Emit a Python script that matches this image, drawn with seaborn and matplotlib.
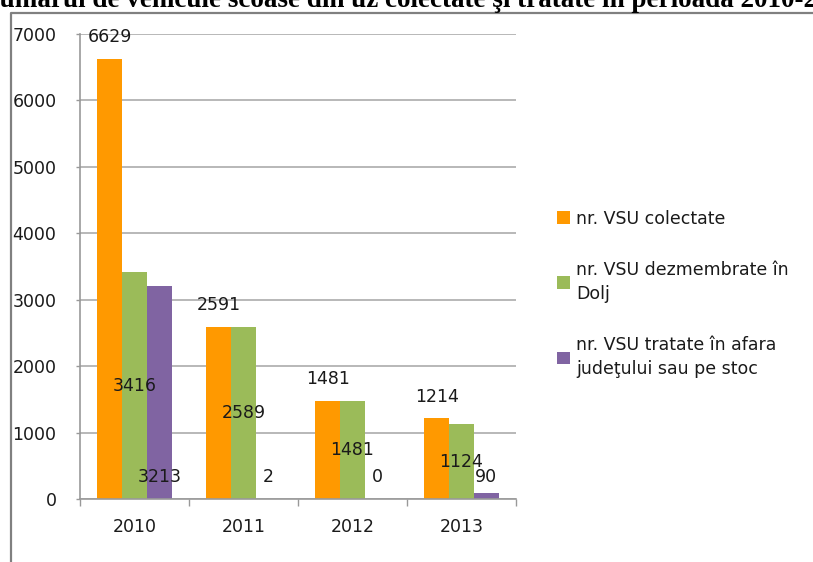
import matplotlib
matplotlib.use("Agg")
import pandas as pd
import seaborn as sns
from matplotlib import pyplot as plt
from matplotlib.lines import Line2D
from matplotlib.ticker import MultipleLocator, FixedLocator

years = ["2010", "2011", "2012", "2013"]
colectate = [6629, 2591, 1481, 1214]
dezmembrate = [3416, 2589, 1481, 1124]
tratate_afara = [3213, 2, 0, 90]
series = ["nr. VSU colectate",
          "nr. VSU dezmembrate în\nDolj",
          "nr. VSU tratate în afara\njudeţului sau pe stoc"]
colors = ["#FF9900", "#9BBB59", "#8064A2"]
title = "Numărul de vehicule scoase din uz colectate şi tratate în perioada 2010-2013"

W, H = 813, 562
GRAY = "#999999"
TXT = "#1A1A1A"
FS = 12.5

df = pd.DataFrame({
    "an": years * 3,
    "val": colectate + dezmembrate + tratate_afara,
    "serie": [s for s in series for _ in years],
})

sns.set_style("white")
plt.rcParams["font.family"] = ["DejaVu Sans"]

fig = plt.figure(figsize=(W / 100, H / 100), dpi=100)
ax = fig.add_axes([80 / W, 63 / H, 436 / W, 465 / H])
sns.barplot(data=df, x="an", y="val", hue="serie", hue_order=series,
            palette=colors, saturation=1, width=0.68, errorbar=None,
            linewidth=0, ax=ax)

# data labels: outside end / center / inside base
ax.bar_label(ax.containers[0], padding=9, fontsize=FS, color=TXT)
ax.bar_label(ax.containers[1], label_type="center", fontsize=FS, color=TXT)
for bar, v in zip(ax.containers[2], tratate_afara):
    ax.annotate(str(v), (bar.get_x() + bar.get_width() / 2, 0),
                xytext=(0, 16), textcoords="offset points",
                ha="center", va="center", fontsize=FS, color=TXT)

ax.set_ylim(0, 7000)
ax.set_xlim(-0.5, 3.5)
ax.yaxis.set_major_locator(MultipleLocator(1000))
ax.grid(axis="y", color="#ABABAB", lw=1.2)
ax.set_axisbelow(True)
ax.xaxis.set_minor_locator(FixedLocator([-0.5, 0.5, 1.5, 2.5, 3.5]))
ax.tick_params(axis="y", left=True, length=3, width=1, color=GRAY, pad=14,
               labelsize=FS, labelcolor=TXT)
ax.tick_params(axis="x", which="major", length=0, pad=14, labelsize=FS,
               labelcolor=TXT)
ax.tick_params(axis="x", which="minor", bottom=True, length=5, width=1, color=GRAY)
for side in ("top", "right"):
    ax.spines[side].set_visible(False)
for side in ("left", "bottom"):
    ax.spines[side].set_color(GRAY)
    ax.spines[side].set_linewidth(1.2)
ax.set_xlabel("")
ax.set_ylabel("")

leg = ax.legend(loc="center left", bbox_to_anchor=(557 / W, 1 - 294 / H),
                bbox_transform=fig.transFigure, frameon=False, fontsize=FS,
                borderpad=0, borderaxespad=0, labelspacing=1.9,
                handlelength=0.75, handleheight=0.75, handletextpad=0.35)
for t in leg.get_texts():
    t.set_linespacing(1.45)
    t.set_color(TXT)

# outer frame of the pasted chart
fig.add_artist(Line2D([11 / W, 11 / W, 1], [0, 1 - 13 / H, 1 - 13 / H],
                      transform=fig.transFigure, color="#808080", lw=1.6))

# title, partly cut off by the page edge
renderer = fig.canvas.get_renderer()
tprops = dict(fontsize=19.5, fontweight="bold", family="Liberation Serif")
probe = fig.text(0, 0, "N", **tprops)
wn = probe.get_window_extent(renderer).width
probe.remove()
fig.text(-wn / W, 1 - 7 / H, title, ha="left", va="baseline", color="black", **tprops)

fig.savefig("out.png", dpi=100)
